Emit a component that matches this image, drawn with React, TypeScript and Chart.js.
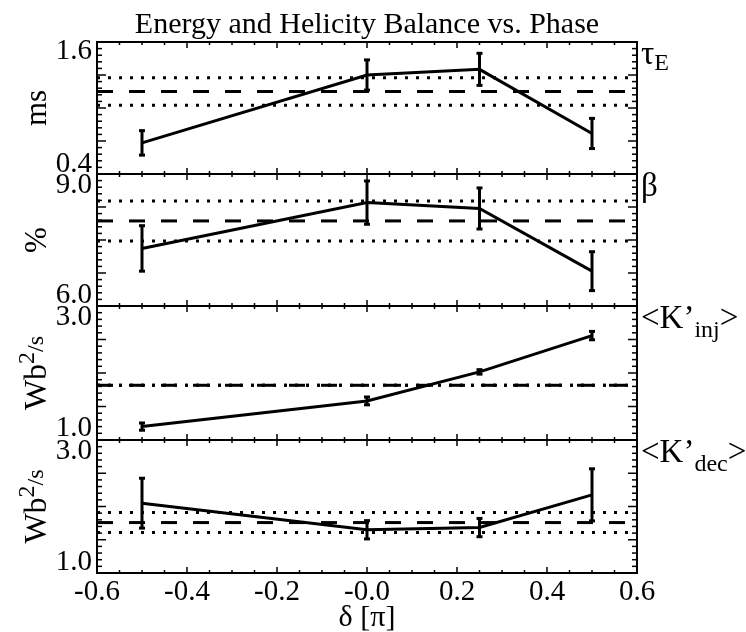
import React, { useEffect, useRef } from 'react';
import { Chart, registerables } from 'chart.js';
Chart.register(...registerables);

// ---------- data ----------
const phase = [-0.5, 0.0, 0.25, 0.5];
const xTickValues = [-0.6, -0.4, -0.2, 0.0, 0.2, 0.4, 0.6];
const xTickLabels = ['-0.6', '-0.4', '-0.2', '-0.0', '0.2', '0.4', '0.6'];

const tauE = [0.63, 1.35, 1.41, 0.73];
const tauEErr = [0.13, 0.16, 0.17, 0.16];
const tauEMean = 1.175;
const tauEStd = 0.145;
const tauERange = [0.3, 1.7];
const tauETickLabels = [0.4, 1.6];

const beta = [7.27, 8.52, 8.36, 6.65];
const betaErr = [0.62, 0.59, 0.56, 0.53];
const betaMean = 8.02;
const betaStd = 0.545;
const betaRange = [5.7, 9.3];
const betaTickLabels = [6.0, 9.0];

const kInj = [1.04, 1.5, 2.02, 2.67];
const kInjErr = [0.065, 0.07, 0.04, 0.075];
const kInjMean = 1.78;
const kInjStd = 0.0;
const kInjRange = [0.8, 3.2];
const kInjTickLabels = [1.0, 3.0];

const kDec = [2.06, 1.58, 1.62, 2.21];
const kDecErr = [0.45, 0.165, 0.165, 0.47];
const kDecMean = 1.71;
const kDecStd = 0.18;
const kDecRange = [0.8, 3.2];
const kDecTickLabels = [1.0, 3.0];

const titleText = 'Energy and Helicity Balance vs. Phase';
const xTitleText = 'δ [π]';

// ---------- layout / style ----------
const W = 746;
const H = 632;
const PLOT_LEFT = 97;
const PLOT_RIGHT = 637;
const FONT = '"Liberation Serif", "Times New Roman", Times, serif';
const TICK_FONT = 29;

type Seg = { t: string; s: number; dy: number };

const unitWb: Seg[] = [
  { t: 'Wb', s: 32, dy: 0 },
  { t: '2', s: 24, dy: -12 },
  { t: '/s', s: 24, dy: -3 },
];

const panels = [
  { values: tauE, errors: tauEErr, mean: tauEMean, std: tauEStd, range: tauERange, labels: tauETickLabels, top: 42, bottom: 174,
    unit: [{ t: 'ms', s: 31, dy: 0 }] as Seg[],
    tag: [{ t: 'τ', s: 33, dy: 0 }, { t: 'E', s: 24, dy: 6 }] as Seg[] },
  { values: beta, errors: betaErr, mean: betaMean, std: betaStd, range: betaRange, labels: betaTickLabels, top: 174, bottom: 306,
    unit: [{ t: '%', s: 31, dy: 0 }] as Seg[],
    tag: [{ t: 'β', s: 33, dy: 0 }] as Seg[] },
  { values: kInj, errors: kInjErr, mean: kInjMean, std: kInjStd, range: kInjRange, labels: kInjTickLabels, top: 306, bottom: 440,
    unit: unitWb,
    tag: [{ t: '<K’', s: 33, dy: 0 }, { t: 'inj', s: 24, dy: 9 }, { t: '>', s: 33, dy: 0 }] as Seg[] },
  { values: kDec, errors: kDecErr, mean: kDecMean, std: kDecStd, range: kDecRange, labels: kDecTickLabels, top: 440, bottom: 573,
    unit: unitWb,
    tag: [{ t: '<K’', s: 33, dy: 0 }, { t: 'dec', s: 24, dy: 9 }, { t: '>', s: 33, dy: 0 }] as Seg[] },
];

function line(ctx: CanvasRenderingContext2D, x1: number, y1: number, x2: number, y2: number) {
  ctx.beginPath();
  ctx.moveTo(x1, y1);
  ctx.lineTo(x2, y2);
  ctx.stroke();
}

function drawSegs(ctx: CanvasRenderingContext2D, segs: Seg[], x: number, y: number, center: boolean) {
  let total = 0;
  for (const sg of segs) {
    ctx.font = `${sg.s}px ${FONT}`;
    total += ctx.measureText(sg.t).width;
  }
  let cx = center ? x - total / 2 : x;
  for (const sg of segs) {
    ctx.font = `${sg.s}px ${FONT}`;
    ctx.fillText(sg.t, cx, y + sg.dy);
    cx += ctx.measureText(sg.t).width;
  }
}

function makePlugin(idx: number) {
  const p = panels[idx];
  return {
    id: 'decor' + idx,
    afterDatasetsDraw(chart: any) {
      const { ctx, chartArea: a, scales } = chart;
      const xs = scales.x;
      const ys = scales.y;
      ctx.save();
      ctx.strokeStyle = '#000';
      ctx.fillStyle = '#000';
      ctx.lineCap = 'butt';
      // error bars
      ctx.lineWidth = 3;
      p.values.forEach((v: number, i: number) => {
        const px = xs.getPixelForValue(phase[i]);
        const yt = ys.getPixelForValue(v + p.errors[i]);
        const yb = ys.getPixelForValue(v - p.errors[i]);
        line(ctx, px, yt, px, yb);
        line(ctx, px - 3, yt, px + 3, yt);
        line(ctx, px - 3, yb, px + 3, yb);
      });
      // x ticks (top & bottom, inward)
      ctx.lineWidth = 1.5;
      for (let k = 0; k <= 24; k++) {
        const v = -0.6 + k * 0.05;
        const px = xs.getPixelForValue(v);
        const len = k % 4 === 0 ? 6 : 3;
        line(ctx, px, a.top, px, a.top + len);
        line(ctx, px, a.bottom, px, a.bottom - len);
      }
      // y ticks (left & right, inward)
      const [lo, hi] = p.range;
      for (let k = 0; k <= 20; k++) {
        const v = lo + ((hi - lo) * k) / 20;
        const py = ys.getPixelForValue(v);
        const len = k % 5 === 0 ? 9 : 5;
        line(ctx, a.left, py, a.left + len, py);
        line(ctx, a.right, py, a.right - len, py);
      }
      // frame
      ctx.lineWidth = 2;
      ctx.strokeRect(a.left, a.top, a.right - a.left, a.bottom - a.top);

      // texts
      ctx.textBaseline = 'alphabetic';
      ctx.textAlign = 'left';
      drawSegs(ctx, p.tag, a.right + 4, a.top + 22, false);
      ctx.save();
      ctx.translate(46, (a.top + a.bottom) / 2);
      ctx.rotate(-Math.PI / 2);
      drawSegs(ctx, p.unit, 0, 0, true);
      ctx.restore();
      if (idx === 0) {
        drawSegs(ctx, [{ t: titleText, s: 30, dy: 0 }], (a.left + a.right) / 2, 33, true);
      }
      if (idx === panels.length - 1) {
        drawSegs(ctx, [{ t: xTitleText, s: 30, dy: 0 }], (a.left + a.right) / 2, 626, true);
      }
      ctx.restore();
    },
  };
}

function hline(y: number, dash: number[]) {
  return {
    data: [{ x: -0.6, y }, { x: 0.6, y }],
    borderColor: '#000',
    borderWidth: 3,
    borderDash: dash,
    pointRadius: 0,
    fill: false,
  };
}

function makeConfig(idx: number): any {
  const p = panels[idx];
  const last = idx === panels.length - 1;
  return {
    type: 'line',
    data: {
      datasets: [
        {
          data: phase.map((x, i) => ({ x, y: p.values[i] })),
          borderColor: '#000',
          borderWidth: 3,
          pointRadius: 0,
          tension: 0,
          fill: false,
        },
        hline(p.mean, [16, 16]),
        hline(p.mean + p.std, [3, 8]),
        hline(p.mean - p.std, [3, 8]),
      ],
    },
    options: {
      responsive: false,
      maintainAspectRatio: false,
      animation: false,
      devicePixelRatio: 1,
      events: [],
      layout: {
        padding: { left: 0, right: W - PLOT_RIGHT, top: p.top, bottom: last ? 0 : H - p.bottom },
      },
      plugins: { legend: { display: false }, tooltip: { enabled: false }, title: { display: false } },
      scales: {
        x: {
          type: 'linear',
          min: -0.6,
          max: 0.6,
          grid: { display: false, drawTicks: false },
          border: { display: false },
          afterBuildTicks: (s: any) => {
            s.ticks = xTickValues.map((v) => ({ value: v }));
          },
          ticks: {
            display: last,
            autoSkip: false,
            maxRotation: 0,
            padding: 2,
            color: '#000',
            font: { family: FONT, size: TICK_FONT },
            callback: (_v: any, i: number) => xTickLabels[i],
          },
          afterFit: (s: any) => {
            s.height = last ? H - p.bottom : 0;
          },
        },
        y: {
          type: 'linear',
          min: p.range[0],
          max: p.range[1],
          grid: { display: false, drawTicks: false },
          border: { display: false },
          afterBuildTicks: (s: any) => {
            s.ticks = p.labels.map((v: number) => ({ value: v }));
          },
          ticks: {
            padding: 5,
            color: '#000',
            font: { family: FONT, size: TICK_FONT },
            callback: (v: any) => Number(v).toFixed(1),
          },
          afterFit: (s: any) => {
            s.width = PLOT_LEFT;
          },
        },
      },
    },
    plugins: [makePlugin(idx)],
  };
}

function Panel({ idx }: { idx: number }) {
  const ref = useRef<HTMLCanvasElement | null>(null);
  useEffect(() => {
    if (!ref.current) return;
    const chart = new Chart(ref.current, makeConfig(idx));
    return () => chart.destroy();
  }, [idx]);
  return (
    <canvas
      ref={ref}
      width={W}
      height={H}
      style={{ position: 'absolute', left: 0, top: 0, width: W, height: H }}
    />
  );
}

export default function App() {
  useEffect(() => {
    document.body.style.margin = '0';
  }, []);
  return (
    <div style={{ position: 'fixed', left: 0, top: 0, width: W, height: H, background: '#fff' }}>
      {panels.map((_, i) => (
        <Panel key={i} idx={i} />
      ))}
    </div>
  );
}
